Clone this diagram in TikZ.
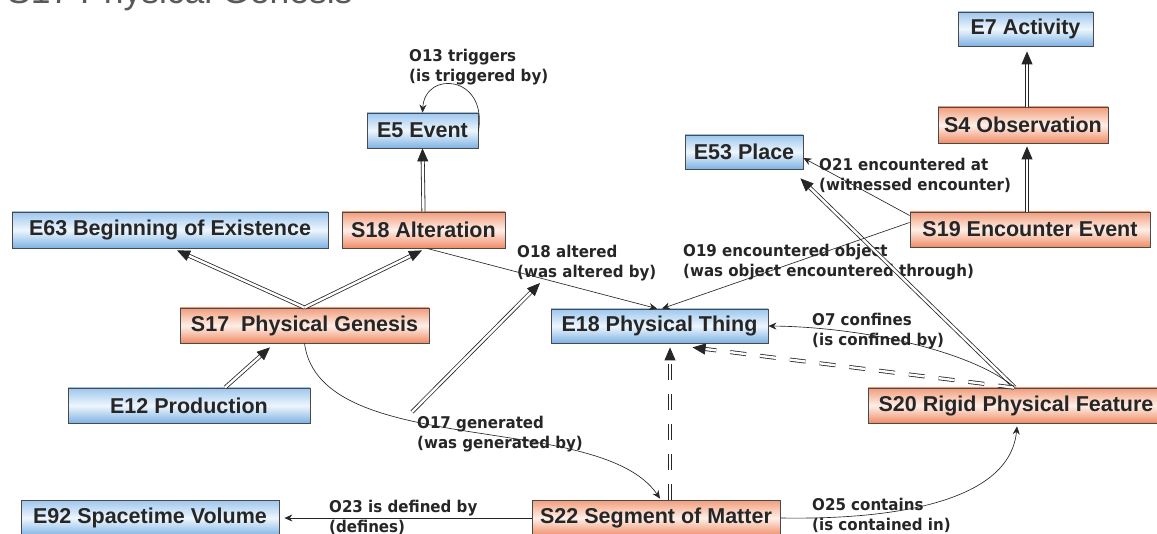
\documentclass[tikz,border=0pt]{standalone}
\usepackage{fontspec}
\setmainfont{Liberation Sans}
\newfontfamily\boxfont{Liberation Sans}
\newfontfamily\lblfont[FakeStretch=0.93]{DejaVu Sans}
\usetikzlibrary{arrows.meta}
\definecolor{bluetop}{HTML}{9DC6EE}
\definecolor{bluemid}{HTML}{EEF6FD}
\definecolor{bluebot}{HTML}{7EB2E4}
\definecolor{ortop}{HTML}{F29C7A}
\definecolor{ormid}{HTML}{FEEFE8}
\definecolor{orbot}{HTML}{F08C66}
\definecolor{boxline}{HTML}{4A4A4A}
\definecolor{ink}{HTML}{262626}
\tikzset{
  box/.style={draw=boxline, line width=0.8pt, inner sep=0pt, text=ink,
    font=\boxfont\bfseries\fontsize{21.5}{24}\selectfont},
  ebox/.style={box, top color=bluetop, bottom color=bluebot, middle color=bluemid},
  sbox/.style={box, top color=ortop, bottom color=orbot, middle color=ormid},
  lbl/.style={font=\lblfont\bfseries\fontsize{16.2}{20}\selectfont, text=ink,
    align=left, inner sep=0pt, anchor=west},
  prop/.style={draw=ink, line width=0.65pt, -{Stealth[length=8pt,width=7pt]}},
  isa/.style={draw=ink, line width=0.8pt, double=white, double distance=2.4pt,
    -{Triangle[length=13pt,width=11pt]}},
  isad/.style={isa, dash pattern=on 16pt off 14pt}
}
\begin{document}
\begin{tikzpicture}[x=1pt,y=-1pt]
\useasboundingbox (0,0) rectangle (1157,534);
\clip (0,0) rectangle (1157,534);
% title (cut at top, as in the reference)
\node[anchor=base west, inner sep=0pt, text=black!65,
  font=\fontsize{35.5}{40}\selectfont] (title) at (7,3.5) {S17 Physical Genesis};
% boxes
\node[ebox, minimum width=135pt, minimum height=34pt] (E7) at (1025.5,29) {E7 Activity};
\node[sbox, minimum width=170pt, minimum height=36pt] (S4) at (1023,125) {S4 Observation};
\node[ebox, minimum width=111pt, minimum height=35pt] (E5) at (422.5,130.5) {E5 Event};
\node[ebox, minimum width=118pt, minimum height=34pt] (E53) at (744,152) {E53 Place};
\node[sbox, minimum width=240pt, minimum height=35pt] (S19) at (1030,229.5) {S19 Encounter Event};
\node[ebox, minimum width=316pt, minimum height=36pt] (E63) at (170,230) {E63 Beginning of Existence};
\node[sbox, minimum width=163pt, minimum height=36pt] (S18) at (423.5,230) {S18 Alteration};
\node[sbox, minimum width=249pt, minimum height=35pt] (S17) at (304.5,325.5) {S17\ \ Physical Genesis};
\node[ebox, minimum width=217pt, minimum height=34pt] (E18) at (659.5,326) {E18 Physical Thing};
\node[ebox, minimum width=242pt, minimum height=35pt] (E12) at (189,405.5) {E12 Production};
\node[sbox, minimum width=296pt, minimum height=35pt] (S20) at (1016,405.5) {S20 Rigid Physical Feature};
\node[ebox, minimum width=258pt, minimum height=36pt] (E92) at (150,518) {E92 Spacetime Volume};
\node[sbox, minimum width=248pt, minimum height=36pt] (S22) at (656,518) {S22 Segment of Matter};
% labels
\node[lbl] (o13) at (409,67.5) {O13 triggers\\(is triggered by)};
\node[lbl] (o18) at (517,263) {O18 altered\\(was altered by)};
\node[lbl] (o19) at (683,262) {O19 encountered object\\(was object encountered through)};
\node[lbl] (o21) at (819,175) {O21 encountered at\\(witnessed encounter)};
\node[lbl] (o7) at (812,331) {O7 confines\\(is confined by)};
\node[lbl] (o17) at (417,434) {O17 generated\\(was generated by)};
\node[lbl] (o23) at (329,517) {O23 is defined by\\(defines)};
\node[lbl] (o25) at (812,515) {O25 contains\\(is contained in)};
\coordinate (o17a) at (412,412);
\coordinate (o18a) at (540,283);
% is-a links
\draw[isa] (S18.north) -- (E5.south);
\draw[isa] (S17.north) -- ([xshift=7pt,yshift=-2pt]E63.south);
\draw[isa] (S17.north) -- ([xshift=-1.5pt,yshift=-2pt]S18.south);
\draw[isa] ([xshift=36pt]E12.north) -- ([xshift=-34.5pt,yshift=-4pt]S17.south);
\draw[isa] (o17a) -- (o18a);
\draw[isa] ([xshift=-3pt]S19.north) -- ([xshift=4pt,yshift=-3pt]S4.south);
\draw[isa] ([xshift=4pt]S4.north) -- ([xshift=1.5pt,yshift=-5pt]E7.south);
\draw[isa] ([xshift=-1pt]S20.north) -- ([xshift=-3pt,yshift=-9pt]E53.south east);
\draw[isad] ([xshift=-2pt]S20.north) -- ([xshift=33pt,yshift=-4pt]E18.south);
\draw[isad] ([xshift=14pt]S22.north) -- ([xshift=10.5pt,yshift=-4pt]E18.south);
% property links
\draw[prop] ([yshift=-1pt]E5.east) .. controls (488,75) and (425,70) .. (E5.north);
\draw[prop] ([xshift=3.5pt]S18.south) -- ([xshift=-2.5pt]E18.north);
\draw[prop] ([yshift=7pt]S19.west) -- ([xshift=2.5pt]E18.north);
\draw[prop] ([yshift=14pt]S19.west) -- ([yshift=-6pt]E53.east);
\draw[prop] ([xshift=-1pt]S20.north) .. controls (970,350) and (860,327) .. (E18.east);
\draw[prop] (S17.south) .. controls (320,460) and (600,410) .. ([xshift=4pt,yshift=1pt]S22.north);
\draw[prop] (S22.west) -- ([xshift=5pt]E92.east);
\draw[prop] (S22.east) .. controls (900,520) and (1010,500) .. ([xshift=1pt,yshift=-3pt]S20.south);
\end{tikzpicture}
\end{document}
